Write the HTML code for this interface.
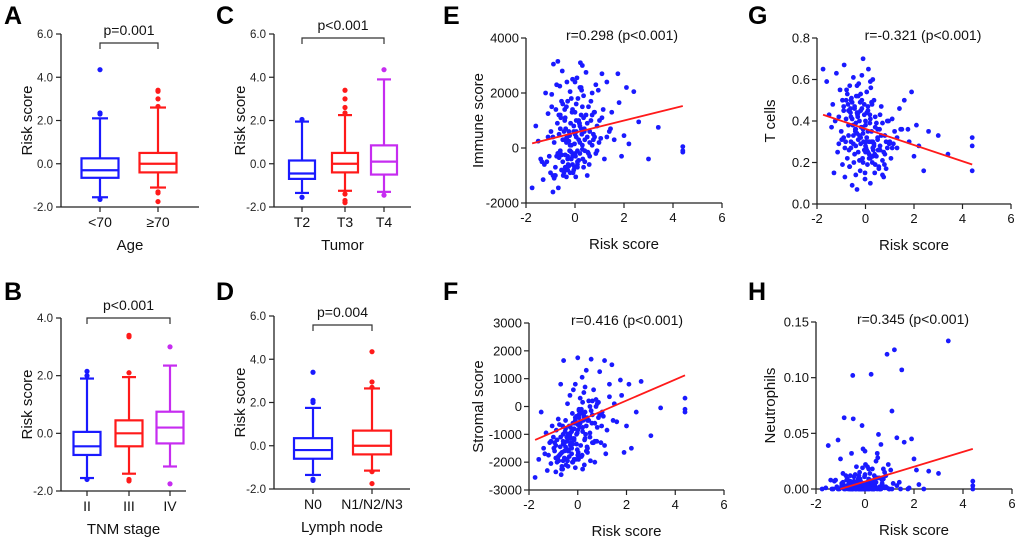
<!DOCTYPE html>
<html><head><meta charset="utf-8">
<style>
html,body{margin:0;padding:0;background:#fff;}
svg{display:block;font-family:"Liberation Sans",Arial,sans-serif;}
</style></head>
<body>
<svg id="fig" width="1020" height="543" viewBox="0 0 1020 543" xmlns="http://www.w3.org/2000/svg"></svg>
<script>
// ---------- Box plot data: [whiskerLow, q1, median, q3, whiskerHigh] ----------
const ageCats = ["<70", "≥70"];
const ageStats = [[-1.55,-0.65,-0.3,0.25,2.1],[-1.1,-0.4,0,0.5,2.6]];
const ageOut = [[4.35,2.35,2.3,-1.65],[3.4,3.35,3.0,2.65,-1.3,-1.35,-1.75]];
const tumorCats = ["T2","T3","T4"];
const tumorStats = [[-1.35,-0.7,-0.45,0.15,1.95],[-1.25,-0.4,0,0.5,2.25],[-1.3,-0.5,0.1,0.85,3.9]];
const tumorOut = [[2.05,-1.55],[3.4,3.0,2.6,2.35,-1.4,-1.7,-1.8],[4.35,-1.45]];
const tnmCats = ["II","III","IV"];
const tnmStats = [[-1.55,-0.75,-0.45,0.05,1.9],[-1.4,-0.45,0,0.45,1.95],[-1.15,-0.35,0.2,0.75,2.35]];
const tnmOut = [[2.15,2.0,-1.6],[3.4,3.35,2.1,-1.6,-1.65],[3.0,-1.75]];
const nodeCats = ["N0","N1/N2/N3"];
const nodeStats = [[-1.35,-0.6,-0.2,0.35,1.75],[-1.15,-0.4,0,0.7,2.65]];
const nodeOut = [[3.4,2.1,2.0,-1.6,-1.55],[4.35,2.95,2.7,-1.2,-1.75]];
const ticks6 = [6,4,2,0,-2];
const ticks4 = [4,2,0,-2];

// ---------- Scatter data (shared risk score) ----------
const riskScore = [
-1.75,-1.6,-1.5,-1.4,-1.3,-1.2,-1.15,-1.1,-1.05,-1.0,
-0.95,-0.9,-0.88,-0.85,-0.8,-0.78,-0.75,-0.72,-0.7,-0.68,
-0.65,-0.62,-0.6,-0.58,-0.55,-0.52,-0.5,-0.48,-0.45,-0.42,
-0.4,-0.38,-0.35,-0.32,-0.3,-0.28,-0.25,-0.22,-0.2,-0.18,
-0.15,-0.12,-0.1,-0.08,-0.05,-0.02,0.0,0.02,0.05,0.08,
0.1,0.12,0.15,0.18,0.2,0.22,0.25,0.28,0.3,0.32,
0.35,0.38,0.4,0.45,0.5,0.55,0.6,0.65,0.7,0.75,
0.8,0.85,0.9,0.95,1.0,1.05,1.1,1.2,1.3,1.4,
1.5,1.6,1.75,1.9,2.0,2.1,2.2,2.4,2.6,3.0,
3.4,4.4,4.4,4.4,
-0.9,-0.7,-0.6,-0.5,-0.45,-0.4,-0.35,-0.3,-0.25,-0.2,
-0.15,-0.1,-0.05,0,0.05,0.1,0.15,0.2,0.25,0.3,
0.4,0.5,0.6,0.7,0.8,-0.8,-0.6,-0.4,-0.3,-0.2,
-0.1,0,0.1,0.2,0.3,-0.55,-0.35,-0.15,0.05,0.35,
-1.25,-0.95,-0.85,-0.75,-0.65,-0.55,-0.45,-0.35,-0.25,-0.15,
-0.05,0.05,0.15,0.25,0.35,0.45,0.55,0.65,0.75,0.85,
-1.1,-0.9,-0.7,-0.5,-0.3,-0.1,0.1,0.3,0.5,0.7,
0.9,1.1,1.3,-0.6,-0.4,-0.2,0,0.2,0.4,0.6,
-0.82,-0.62,-0.42,-0.22,-0.02,0.18,0.38,0.58,0.78,0.98,
-1.35,-0.98,-0.66,-0.33,0.03,0.27,0.52,1.15,1.45,1.8];
const immuneScore = [
-1450,800,250,-400,-1150,2000,-500,1250,-300,-900,
1950,-1600,3050,200,-700,1400,-300,900,3150,-1450,
500,2250,-200,1100,-800,2800,300,-1000,600,1400,
-250,700,-1050,400,1700,-600,250,-100,2050,900,
-400,1300,2500,-900,600,150,2400,-300,1000,2550,
-700,1800,300,900,-200,3100,1200,500,3000,-400,
1900,700,-100,2750,400,1500,-300,1000,2000,500,
1300,-200,800,2100,1000,350,2700,-400,2400,600,
1300,300,2700,-300,450,2200,150,2050,950,-400,
750,50,-100,-150,
400,-200,1200,-500,300,-800,200,-300,600,-100,
100,-600,800,-200,400,-100,1000,200,700,-50,
300,900,600,100,400,-1000,-100,-700,-400,100,
-300,500,-600,800,100,-250,350,-150,600,1100,
-600,1500,-1100,2300,-350,1700,-900,1500,-650,1800,
-800,1600,-450,2200,-700,1200,-200,1700,300,2300,
400,-1000,-200,1600,-800,1400,-500,1500,-1000,1200,
-100,1100,400,700,1100,-900,1300,2200,-500,200,
-1000,-150,1000,450,-700,900,600,-600,1300,200,
-500,600,1200,2400,-1050,2100,-150,1400,700,1650];
const stromalScore = [
-2550,-1900,-200,-1500,-950,-1750,-1300,-2050,-700,-1100,
-1600,-2350,-850,-1200,-450,-1950,-650,-1450,800,-2450,
-1650,-700,-1350,1650,-1850,-900,-500,-2100,-1250,100,
-1000,-1600,-1800,400,-750,-1300,-1500,-250,-2000,600,
-1150,-600,800,-1900,-350,-950,1750,-1650,-100,-750,
300,-1400,-200,1050,-2250,-500,500,-1200,700,-1000,
1300,-400,-1650,200,-1100,1700,-300,600,-2000,250,
-750,150,1250,-1300,-200,-350,1650,-850,350,1500,
100,-550,950,-1650,-700,800,-1500,-200,900,-1050,
-50,300,-100,-200,
-1400,-1700,-1000,-1450,-1100,-1550,-700,-1350,-900,-600,
-1200,-400,-1000,-650,-300,-550,-100,-750,-350,-200,
-500,0,200,-600,100,-1800,-1250,-1600,-950,-1150,
-500,-850,-250,150,-400,-1300,-1050,-800,-150,-700,
-2300,-1300,-2000,-1750,-2150,-1600,-1900,-1150,-1700,-1900,
-1350,-400,-1800,-250,-1600,-500,-150,-1300,0,-400,
-1250,-1850,-1100,-800,-1400,-2200,-600,-1150,-950,-1250,
-300,-1400,800,-1950,-2150,-1350,-1750,-900,-1500,-1300,
-1850,-2250,-1950,-2000,-1550,-1750,-1450,-600,-1250,-700,
-1700,-1500,-2250,-1050,-1900,-2100,-1950,-1700,-500,400];
const tCells = [
0.65,0.59,0.43,0.37,0.15,0.63,0.25,0.29,0.55,0.35,
0.19,0.47,0.67,0.13,0.41,0.55,0.22,0.48,0.33,0.26,
0.57,0.44,0.3,0.51,0.09,0.38,0.61,0.2,0.46,0.35,
0.28,0.52,0.07,0.42,0.25,0.58,0.33,0.16,0.45,0.37,
0.62,0.22,0.7,0.3,0.48,0.12,0.4,0.27,0.54,0.19,
0.35,0.65,0.24,0.43,0.1,0.56,0.3,0.2,0.6,0.26,
0.5,0.15,0.42,0.23,0.36,0.18,0.28,0.47,0.21,0.25,
0.33,0.17,0.27,0.4,0.3,0.22,0.41,0.35,0.27,0.46,
0.36,0.5,0.36,0.54,0.23,0.38,0.28,0.16,0.35,0.33,
0.24,0.32,0.28,0.16,
0.45,0.38,0.42,0.33,0.47,0.36,0.44,0.31,0.4,0.29,
0.46,0.34,0.43,0.38,0.32,0.45,0.3,0.41,0.35,0.27,
0.37,0.31,0.26,0.39,0.24,0.5,0.27,0.39,0.44,0.32,
0.36,0.28,0.25,0.22,0.3,0.41,0.34,0.37,0.26,0.29,
0.4,0.5,0.27,0.53,0.18,0.49,0.24,0.57,0.21,0.5,
0.26,0.44,0.22,0.49,0.28,0.39,0.17,0.33,0.13,0.3,
0.42,0.32,0.45,0.29,0.52,0.2,0.47,0.23,0.32,0.14,
0.4,0.27,0.32,0.5,0.14,0.53,0.25,0.59,0.19,0.43,
0.3,0.46,0.36,0.49,0.15,0.39,0.24,0.36,0.19,0.29,
0.48,0.31,0.18,0.43,0.3,0.48,0.26,0.29,0.36,0.3];
const neutrophils = [
0,0.001,0.039,0.008,0.0,0.008,0.002,0.044,0.0,0.027,
0.005,0.014,0.001,0.064,0.0,0.012,0.003,0.009,0.002,0.0,
0.006,0.001,0.012,0.004,0.032,0.0,0.102,0.063,0.007,0.002,
0.013,0.0,0.02,0.005,0.001,0.009,0.0,0.015,0.003,0.0,
0.006,0.057,0.002,0.036,0.0,0.011,0.034,0.022,0.004,0.001,
0.02,0.003,0.009,0.0,0.014,0.005,0.103,0.001,0.018,0.007,
0.0,0.012,0.003,0.025,0.032,0.049,0.002,0.04,0.008,0.018,
0.001,0.012,0.121,0.022,0.0,0.017,0.07,0.125,0.046,0.006,
0.107,0.042,0.0,0.045,0.027,0.017,0.004,0.0,0.016,0.014,
0.133,0.007,0.003,0.0,
0.004,0.002,0.007,0.0,0.011,0.001,0.006,0.003,0.0,0.009,
0.002,0.005,0.0,0.013,0.001,0.004,0.0,0.008,0.002,0.006,
0.003,0.01,0.0,0.005,0.015,0.002,0.0,0.004,0.001,0.007,
0.0,0.003,0.006,0.001,0.0,0.005,0.002,0.0,0.004,0.001,
0.007,0.003,0.0,0.008,0.002,0.0,0.005,0.001,0.012,0.0,
0.003,0.0,0.018,0.002,0.0,0.006,0.001,0.0,0.009,0.002,
0.0,0.006,0.001,0.0,0.004,0.019,0.0,0.002,0.0,0.004,
0.001,0.0,0.003,0.002,0.0,0.007,0.0,0.001,0.009,0.0,
0.002,0.0,0.005,0.0,0.003,0.001,0.0,0.01,0.002,0.0,
0.0,0.001,0.004,0.0,0.002,0.0,0.028,0.005,0.0,0.001];
const xTicks = [-2,0,2,4,6];
const immuneTicks = [4000,2000,0,-2000];
const stromalTicks = [3000,2000,1000,0,-1000,-2000,-3000];
const tcellTicks = [0.8,0.6,0.4,0.2,0.0];
const neutroTicks = [0.15,0.10,0.05,0.00];
// regression fits: [intercept, slope]
const immuneFit = [557, 221];
const stromalFit = [-540, 377];
const tcellFit = [0.362, -0.039];
const neutroFit = [0.0067, 0.00667];
const fitRange = [-1.75, 4.4];

const NS = "http://www.w3.org/2000/svg";
const svg = document.getElementById("fig");
function mk(tag, attrs, parent, text){
  const e = document.createElementNS(NS, tag);
  for (const k in attrs) e.setAttribute(k, attrs[k]);
  if (text !== undefined) e.textContent = text;
  (parent || svg).appendChild(e);
  return e;
}
function grp(name){
  const g = document.createElementNS(NS, "g");
  
  
  svg.appendChild(g);
  return g;
}
function letter(ch, x, y){
  const t = mk("text", {x:x, y:y, "font-size":25, "font-weight":"bold", fill:"#000"}, svg, ch);
  
  
}
const colors = ["#1a1aff", "#ff1a1a", "#c62cf0"];

function boxPanel(name, G, cats, stats, outs, ticks, tickFmt, xTitle, pText){
  const g = grp(name);
  const ymin = ticks[ticks.length-1], ymax = ticks[0];
  const Y = v => G.y1 + (v - ymin) / (ymax - ymin) * (G.y0 - G.y1);
  const ya = mk("line", {x1:G.x0, x2:G.x0, y1:Y(ymax), y2:G.y1, stroke:"#222", "stroke-width":1.3}, g);
  
  
  const xa = mk("line", {x1:G.x0, x2:G.xEnd, y1:G.y1, y2:G.y1, stroke:"#222", "stroke-width":1.3}, g);
  
  
  ticks.forEach(t => {
    mk("line", {x1:G.x0-5, x2:G.x0, y1:Y(t), y2:Y(t), stroke:"#222", "stroke-width":1.2}, g);
    const tl = mk("text", {x:G.x0-8, y:Y(t)+4, "font-size":11.5, "text-anchor":"end", fill:"#222"}, g, tickFmt(t));
    
    
  });
  const yt = mk("text", {x:0, y:0, "font-size":15, "text-anchor":"middle", fill:"#111",
    transform:`translate(${G.yTitleX},${(Y(ymax)+G.y1)/2}) rotate(-90)`}, g, "Risk score");
  
  
  cats.forEach((c, i) => {
    const cx = G.cx[i], col = colors[i], s = stats[i], hw = G.hw, cw = G.cw;
    mk("line", {x1:cx, x2:cx, y1:G.y1, y2:G.y1+5, stroke:"#222", "stroke-width":1.2}, g);
    const cl = mk("text", {x:cx, y:G.y1+20, "font-size":14, "text-anchor":"middle", fill:"#111"}, g, c);
    
    
    const bg = document.createElementNS(NS, "g");
    
    
    g.appendChild(bg);
    const st = {stroke:col, "stroke-width":2.2, fill:"none"};
    mk("line", Object.assign({x1:cx, x2:cx, y1:Y(s[0]), y2:Y(s[1])}, st), bg);
    mk("line", Object.assign({x1:cx, x2:cx, y1:Y(s[3]), y2:Y(s[4])}, st), bg);
    mk("line", Object.assign({x1:cx-cw, x2:cx+cw, y1:Y(s[0]), y2:Y(s[0])}, st), bg);
    mk("line", Object.assign({x1:cx-cw, x2:cx+cw, y1:Y(s[4]), y2:Y(s[4])}, st), bg);
    mk("rect", Object.assign({x:cx-hw, y:Y(s[3]), width:2*hw, height:Y(s[1])-Y(s[3])}, st), bg);
    mk("line", Object.assign({x1:cx-hw, x2:cx+hw, y1:Y(s[2]), y2:Y(s[2])}, st), bg);
    outs[i].forEach(v => {
      const o = mk("circle", {cx:cx, cy:Y(v), r:2.6, fill:col}, bg);
      
      
    });
  });
  const xt = mk("text", {x:(G.x0+G.xEnd)/2, y:G.y1+43, "font-size":15, "text-anchor":"middle", fill:"#111"}, g, xTitle);
  
  
  const a = G.cx[0], b = G.cx[cats.length-1];
  const br = mk("path", {d:`M${a},${G.brY+6}V${G.brY}H${b}V${G.brY+6}`, stroke:"#333", "stroke-width":1.2, fill:"none"}, g);
  
  
  const pt = mk("text", {x:(a+b)/2, y:G.brY-8, "font-size":14, "text-anchor":"middle", fill:"#111"}, g, pText);
  
  
}

function scatterPanel(name, G, yArr, ticks, tickFmt, yTitle, fit, ann){
  const g = grp(name);
  const xmin = xTicks[0], xmax = xTicks[xTicks.length-1];
  const ymin = ticks[ticks.length-1], ymax = ticks[0];
  const X = v => G.x0 + (v - xmin) / (xmax - xmin) * (G.x1 - G.x0);
  const Y = v => G.y1 + (v - ymin) / (ymax - ymin) * (G.y0 - G.y1);
  const ya = mk("line", {x1:G.x0, x2:G.x0, y1:G.y0, y2:G.y1, stroke:"#222", "stroke-width":1.3}, g);
  
  
  const xa = mk("line", {x1:G.x0, x2:G.x1, y1:G.y1, y2:G.y1, stroke:"#222", "stroke-width":1.3}, g);
  
  
  ticks.forEach(t => {
    mk("line", {x1:G.x0-5, x2:G.x0, y1:Y(t), y2:Y(t), stroke:"#222", "stroke-width":1.2}, g);
    const tl = mk("text", {x:G.x0-7, y:Y(t)+4.5, "font-size":13, "text-anchor":"end", fill:"#111"}, g, tickFmt(t));
    
    
  });
  xTicks.forEach(t => {
    mk("line", {x1:X(t), x2:X(t), y1:G.y1, y2:G.y1+5, stroke:"#222", "stroke-width":1.2}, g);
    const tl = mk("text", {x:X(t), y:G.y1+19, "font-size":13, "text-anchor":"middle", fill:"#111"}, g, String(t));
    
    
  });
  const yt = mk("text", {x:0, y:0, "font-size":15, "text-anchor":"middle", fill:"#111",
    transform:`translate(${G.yTitleX},${(G.y0+G.y1)/2}) rotate(-90)`}, g, yTitle);
  
  
  const xt = mk("text", {x:(G.x0+G.x1)/2, y:G.y1+46, "font-size":15, "text-anchor":"middle", fill:"#111"}, g, "Risk score");
  
  
  const n = Math.min(riskScore.length, yArr.length);
  for (let i = 0; i < n; i++){
    const p = mk("circle", {cx:X(riskScore[i]), cy:Y(yArr[i]), r:2.4, fill:"#1a1aff"}, g);
    
    
  }
  let xa0 = fitRange[0];
  const f = v => fit[0] + fit[1]*v;
  if (f(xa0) < ymin) xa0 = (ymin - fit[0]) / fit[1];
  const fl = mk("line", {x1:X(xa0), y1:Y(f(xa0)), x2:X(fitRange[1]), y2:Y(f(fitRange[1])), stroke:"#ff1a1a", "stroke-width":1.8}, g);
  
  
  const at = mk("text", {x:G.annX, y:G.y0+2, "font-size":14, "text-anchor":"middle", fill:"#111"}, g, ann);
  
  
}

const f1 = t => t.toFixed(1);
boxPanel("panel-a-age", {x0:61, xEnd:199, y0:34, y1:207, cx:[100,158], hw:18.5, cw:8, yTitleX:32, brY:43}, ageCats, ageStats, ageOut, ticks6, f1, "Age", "p=0.001");
boxPanel("panel-c-tumor", {x0:274, xEnd:411, y0:34, y1:207, cx:[302,345,384], hw:13, cw:7, yTitleX:245, brY:38}, tumorCats, tumorStats, tumorOut, ticks6, f1, "Tumor", "p<0.001");
boxPanel("panel-b-tnm", {x0:61, xEnd:186, y0:318, y1:491, cx:[87,129,170], hw:13.5, cw:7, yTitleX:32, brY:318}, tnmCats, tnmStats, tnmOut, ticks4, f1, "TNM stage", "p<0.001");
boxPanel("panel-d-lymph", {x0:274, xEnd:410, y0:316, y1:489, cx:[313,372], hw:19, cw:8, yTitleX:245, brY:325}, nodeCats, nodeStats, nodeOut, ticks6, f1, "Lymph node", "p=0.004");

scatterPanel("panel-e-immune", {x0:526, x1:722, y0:38, y1:203, yTitleX:483, annX:622}, immuneScore, immuneTicks, t => String(t), "Immune score", immuneFit, "r=0.298 (p<0.001)");
scatterPanel("panel-g-tcells", {x0:817, x1:1011, y0:38, y1:204, yTitleX:775, annX:923}, tCells, tcellTicks, t => t.toFixed(1), "T cells", tcellFit, "r=-0.321 (p<0.001)");
scatterPanel("panel-f-stromal", {x0:529, x1:724, y0:323, y1:490, yTitleX:483, annX:627}, stromalScore, stromalTicks, t => String(t), "Stromal score", stromalFit, "r=0.416 (p<0.001)");
scatterPanel("panel-h-neutrophils", {x0:816, x1:1012, y0:322, y1:489, yTitleX:775, annX:913}, neutrophils, neutroTicks, t => t.toFixed(2), "Neutrophils", neutroFit, "r=0.345 (p<0.001)");

letter("A", 4, 24); letter("C", 216, 24); letter("E", 443, 24); letter("G", 748, 24);
letter("B", 4, 300); letter("D", 216, 300); letter("F", 443, 300); letter("H", 748, 300);
</script>
</body></html>
